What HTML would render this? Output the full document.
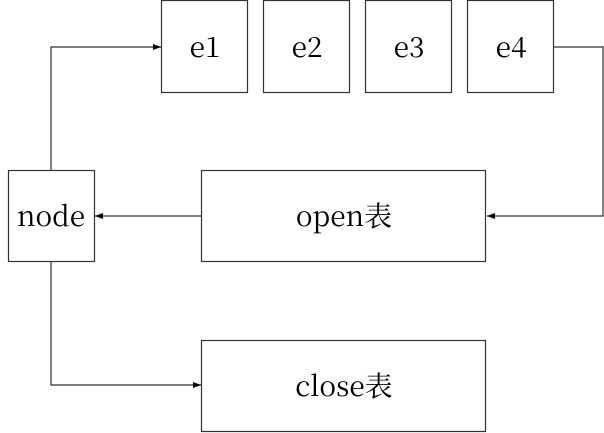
<!DOCTYPE html>
<html><head><meta charset="utf-8"><style>
html,body{margin:0;padding:0;background:#fff;}
svg{display:block;}
</style></head><body>
<svg width="604" height="433" viewBox="0 0 604 433">
<defs><marker id="ah" markerWidth="8" markerHeight="6" refX="8" refY="3" orient="auto" markerUnits="userSpaceOnUse"><path d="M0,0 L8,3 L0,6 z" fill="#000"/></marker></defs>
<g fill="#fff" stroke="#333" stroke-width="1.2">
<rect x="161.5" y="0.5" width="86" height="92"/>
<rect x="263.5" y="0.5" width="86" height="92"/>
<rect x="365.5" y="0.5" width="86" height="92"/>
<rect x="467.5" y="0.5" width="86" height="92"/>
<rect x="8.5" y="170.5" width="86" height="91"/>
<rect x="201.5" y="170.5" width="284" height="91"/>
<rect x="201.5" y="340.5" width="284" height="91"/>
</g>
<g fill="none" stroke="#333" stroke-width="1.2">
<polyline points="553.5,47 603,47 603,216 487,216" marker-end="url(#ah)"/>
<polyline points="201.5,216 95,216" marker-end="url(#ah)"/>
<polyline points="51,170.5 51,47 161,47" marker-end="url(#ah)"/>
<polyline points="51,261.5 51,385 201,385" marker-end="url(#ah)"/>
</g>
<g text-anchor="middle" style="font-family:'Noto Serif CJK SC','Liberation Serif',serif" font-size="28" fill="#000">
<text x="205" y="57">e1</text>
<text x="307" y="57">e2</text>
<text x="409" y="57">e3</text>
<text x="511" y="57">e4</text>
<text x="51" y="226">node</text>
<text x="344" y="226">open表</text>
<text x="344" y="396">close表</text>
</g>
</svg>
</body></html>
